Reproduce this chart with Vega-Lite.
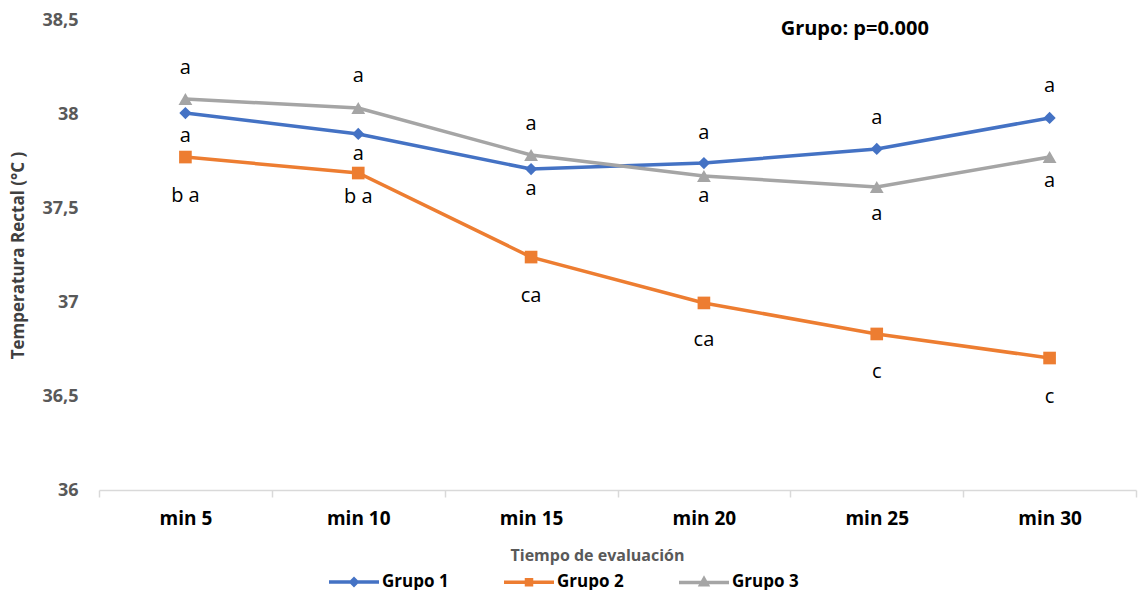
{
  "$schema": "https://vega.github.io/schema/vega-lite/v6.json",
  "width": 1037,
  "height": 470,
  "autosize": {"type": "none"},
  "padding": {"left": 99, "top": 20, "right": 5, "bottom": 100},
  "background": "white",
  "config": {
    "font": "Open Sans",
    "view": {"stroke": null},
    "axis": {"grid": false}
  },
  "datasets": {
    "series": [
      {"tiempo": "min 5", "grupo": "Grupo 1", "temp": 38.005},
      {"tiempo": "min 10", "grupo": "Grupo 1", "temp": 37.894},
      {"tiempo": "min 15", "grupo": "Grupo 1", "temp": 37.707},
      {"tiempo": "min 20", "grupo": "Grupo 1", "temp": 37.739},
      {"tiempo": "min 25", "grupo": "Grupo 1", "temp": 37.814},
      {"tiempo": "min 30", "grupo": "Grupo 1", "temp": 37.979},
      {"tiempo": "min 5", "grupo": "Grupo 2", "temp": 37.771},
      {"tiempo": "min 10", "grupo": "Grupo 2", "temp": 37.686},
      {"tiempo": "min 15", "grupo": "Grupo 2", "temp": 37.239},
      {"tiempo": "min 20", "grupo": "Grupo 2", "temp": 36.995},
      {"tiempo": "min 25", "grupo": "Grupo 2", "temp": 36.83},
      {"tiempo": "min 30", "grupo": "Grupo 2", "temp": 36.702},
      {"tiempo": "min 5", "grupo": "Grupo 3", "temp": 38.08},
      {"tiempo": "min 10", "grupo": "Grupo 3", "temp": 38.032},
      {"tiempo": "min 15", "grupo": "Grupo 3", "temp": 37.782},
      {"tiempo": "min 20", "grupo": "Grupo 3", "temp": 37.67},
      {"tiempo": "min 25", "grupo": "Grupo 3", "temp": 37.612},
      {"tiempo": "min 30", "grupo": "Grupo 3", "temp": 37.771}
    ],
    "letters": [
      {"tiempo": "min 5", "pos": 38.25, "letra": "a"},
      {"tiempo": "min 5", "pos": 37.888, "letra": "a"},
      {"tiempo": "min 5", "pos": 37.569, "letra": "b a"},
      {"tiempo": "min 10", "pos": 38.207, "letra": "a"},
      {"tiempo": "min 10", "pos": 37.793, "letra": "a"},
      {"tiempo": "min 10", "pos": 37.564, "letra": "b a"},
      {"tiempo": "min 15", "pos": 37.952, "letra": "a"},
      {"tiempo": "min 15", "pos": 37.606, "letra": "a"},
      {"tiempo": "min 15", "pos": 37.037, "letra": "ca"},
      {"tiempo": "min 20", "pos": 37.904, "letra": "a"},
      {"tiempo": "min 20", "pos": 37.569, "letra": "a"},
      {"tiempo": "min 20", "pos": 36.803, "letra": "ca"},
      {"tiempo": "min 25", "pos": 37.984, "letra": "a"},
      {"tiempo": "min 25", "pos": 37.473, "letra": "a"},
      {"tiempo": "min 25", "pos": 36.633, "letra": "c"},
      {"tiempo": "min 30", "pos": 38.154, "letra": "a"},
      {"tiempo": "min 30", "pos": 37.649, "letra": "a"},
      {"tiempo": "min 30", "pos": 36.5, "letra": "c"}
    ],
    "note": [
      {"tiempo": "min 25", "pos": 38.452, "texto": "Grupo: p=0.000"}
    ]
  },
  "layer": [
    {
      "data": {"name": "series"},
      "mark": {"type": "line", "strokeWidth": 3.5},
      "encoding": {
        "x": {
          "field": "tiempo", "type": "nominal", "bandPosition": 0.5,
          "sort": ["min 5", "min 10", "min 15", "min 20", "min 25", "min 30"],
          "scale": {"type": "band", "paddingInner": 0, "paddingOuter": 0, "domain": ["min 5", "min 10", "min 15", "min 20", "min 25", "min 30"]},
          "axis": {
            "title": "Tiempo de evaluación",
            "titleFont": "Open Sans", "titleFontSize": 16, "titleFontWeight": "bold", "titleColor": "#595959",
            "titleX": 498, "titleY": 65, "titleBaseline": "middle",
            "labelFont": "Open Sans", "labelFontSize": 19, "labelFontWeight": "bold", "labelColor": "#000000",
            "labelAngle": 0, "labelPadding": 12,
            "domainColor": "#D9D9D9", "domainWidth": 1.5,
            "tickColor": "#D9D9D9", "tickWidth": 1.5, "tickSize": 7, "tickBand": "extent"
          }
        },
        "y": {
          "field": "temp", "type": "quantitative",
          "scale": {"domain": [36, 38.5], "nice": false, "zero": false},
          "axis": {
            "title": "Temperatura Rectal (°C )",
            "titleFont": "Open Sans", "titleFontSize": 17, "titleFontWeight": "bold", "titleColor": "#404040",
            "titleX": -81, "titleY": 235, "titleBaseline": "middle", "titleAngle": -90,
            "values": [36, 36.5, 37, 37.5, 38, 38.5],
            "format": ".1~f",
            "labelExpr": "replace(datum.label, '.', ',')",
            "labelFont": "Open Sans", "labelFontSize": 18, "labelFontWeight": "bold", "labelColor": "#595959",
            "labelPadding": 21, "ticks": false, "domain": false
          }
        },
        "color": {
          "field": "grupo", "type": "nominal",
          "scale": {"domain": ["Grupo 1", "Grupo 2", "Grupo 3"], "range": ["#4472C4", "#ED7D31", "#A5A5A5"]},
          "legend": {
            "title": null,
            "orient": "none",
            "legendX": 228,
            "legendY": 535,
            "direction": "horizontal",
            "symbolType": "M-1,0L1,0",
            "symbolSize": 2500,
            "symbolStrokeWidth": 3.5,
            "labelFont": "Open Sans", "labelFontSize": 17, "labelFontWeight": "bold", "labelColor": "#000000",
            "labelOffset": 1,
            "labelLimit": 200,
            "columnPadding": 48,
            "encode": {
              "symbols": {
                "update": {
                  "shape": {"signal": "datum.value === 'Grupo 1' ? 'M-1,0L1,0M0,-0.12L0.12,0L0,0.12L-0.12,0Z' : datum.value === 'Grupo 2' ? 'M-1,0L1,0M-0.1,-0.1L0.1,-0.1L0.1,0.1L-0.1,0.1Z' : 'M-1,0L1,0M0,-0.14L0.13,0.09L-0.13,0.09Z'"},
                  "fill": {"signal": "datum.value === 'Grupo 1' ? '#4472C4' : datum.value === 'Grupo 2' ? '#ED7D31' : '#A5A5A5'"},
                  "fillOpacity": {"value": 1}
                }
              }
            }
          }
        },
        "detail": {"field": "grupo"}
      }
    },
    {
      "data": {"name": "series"},
      "transform": [{"filter": "datum.grupo === 'Grupo 1'"}],
      "mark": {"type": "point", "filled": true, "opacity": 1, "size": 150, "shape": "diamond", "color": "#4472C4"},
      "encoding": {
        "x": {"field": "tiempo", "type": "nominal", "bandPosition": 0.5, "sort": ["min 5", "min 10", "min 15", "min 20", "min 25", "min 30"]},
        "y": {"field": "temp", "type": "quantitative"}
      }
    },
    {
      "data": {"name": "series"},
      "transform": [{"filter": "datum.grupo === 'Grupo 2'"}],
      "mark": {"type": "point", "filled": true, "opacity": 1, "size": 160, "shape": "square", "color": "#ED7D31"},
      "encoding": {
        "x": {"field": "tiempo", "type": "nominal", "bandPosition": 0.5, "sort": ["min 5", "min 10", "min 15", "min 20", "min 25", "min 30"]},
        "y": {"field": "temp", "type": "quantitative"}
      }
    },
    {
      "data": {"name": "series"},
      "transform": [{"filter": "datum.grupo === 'Grupo 3'"}],
      "mark": {"type": "point", "filled": true, "opacity": 1, "size": 190, "shape": "triangle-up", "color": "#A5A5A5"},
      "encoding": {
        "x": {"field": "tiempo", "type": "nominal", "bandPosition": 0.5, "sort": ["min 5", "min 10", "min 15", "min 20", "min 25", "min 30"]},
        "y": {"field": "temp", "type": "quantitative"}
      }
    },
    {
      "data": {"name": "letters"},
      "mark": {"type": "text", "font": "Open Sans", "fontSize": 20, "color": "#000000", "baseline": "middle", "align": "center", "dy": 1},
      "encoding": {
        "x": {"field": "tiempo", "type": "nominal", "bandPosition": 0.5, "sort": ["min 5", "min 10", "min 15", "min 20", "min 25", "min 30"]},
        "y": {"field": "pos", "type": "quantitative"},
        "text": {"field": "letra"}
      }
    },
    {
      "data": {"name": "note"},
      "mark": {"type": "text", "font": "Open Sans", "fontSize": 20, "fontWeight": "bold", "color": "#000000", "baseline": "middle", "align": "center", "dx": -22},
      "encoding": {
        "x": {"field": "tiempo", "type": "nominal", "bandPosition": 0.5, "sort": ["min 5", "min 10", "min 15", "min 20", "min 25", "min 30"]},
        "y": {"field": "pos", "type": "quantitative"},
        "text": {"field": "texto"}
      }
    }
  ]
}
